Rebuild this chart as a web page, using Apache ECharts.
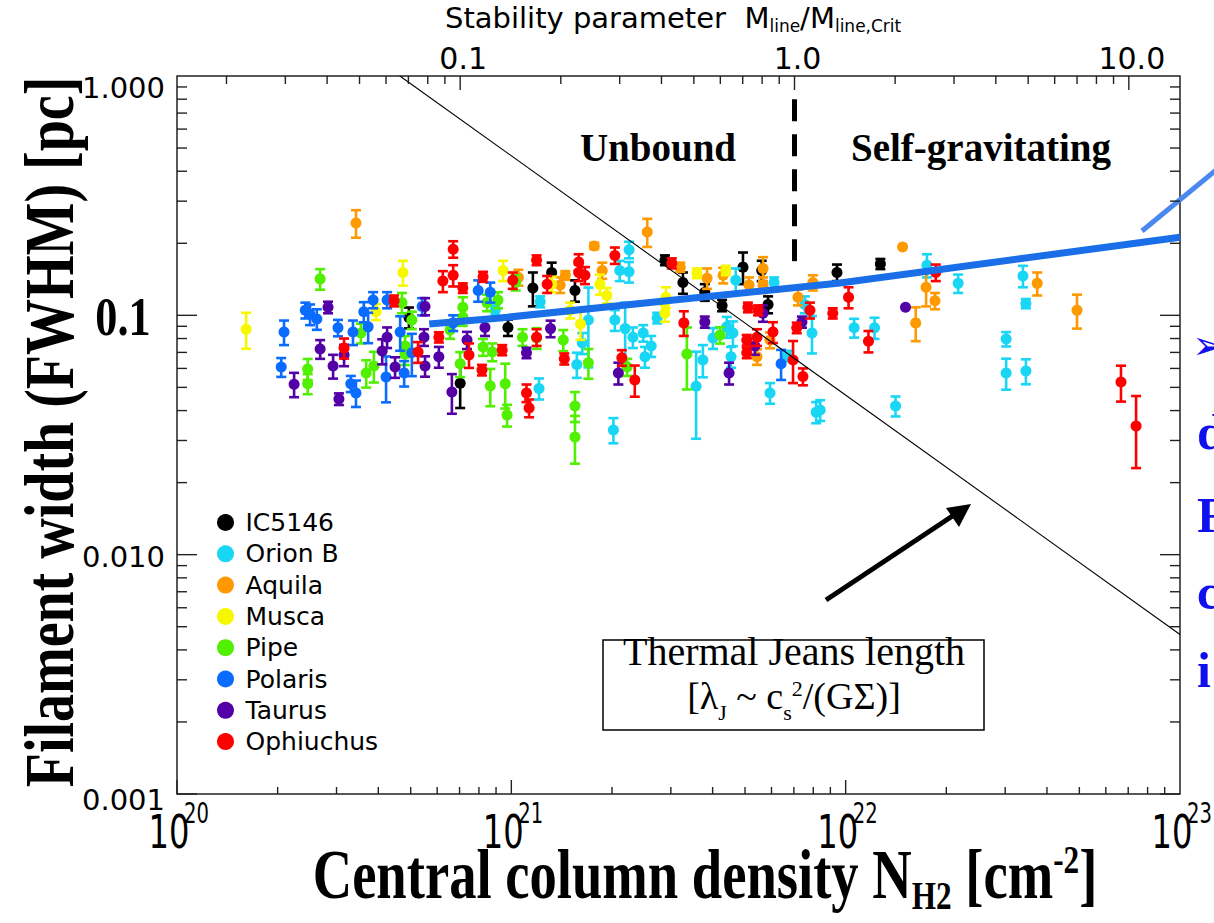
<!DOCTYPE html>
<html><head><meta charset="utf-8">
<script src="https://cdn.jsdelivr.net/npm/echarts@6/dist/echarts.min.js"></script>
<style>html,body{margin:0;padding:0;background:#fff}#c{width:1214px;height:923px}</style>
</head><body><div id="c"></div>
<script>
// ---------------- DATA ----------------
// each point: [central column density N_H2 (cm^-2), FWHM width (pc), error (pc)]
const seriesNames = ['IC5146','Orion B','Aquila','Musca','Pipe','Polaris','Taurus','Ophiuchus'];
const seriesColors = ['#000000','#1ad6f5','#ff9900','#f7f700','#50f000','#0a6cff','#5300a6','#ff0000'];

const ic5146 = [[4.94e20,0.098,0.0098],[7.03e20,0.052,0.011],[9.77e20,0.089,0.007],[1.16e21,0.130,0.021],
 [1.32e21,0.151,0.015],[1.55e21,0.127,0.013],[2.88e21,0.170,0.008],[3.26e21,0.137,0.014],[3.79e21,0.125,0.010],
 [4.27e21,0.110,0.006],[4.93e21,0.159,0.024],[5.61e21,0.154,0.015],[5.86e21,0.111,0.009],[9.42e21,0.151,0.012],
 [1.27e22,0.164,0.008]];
const orionB = [[8.95e20,0.105,0.005],[2.25e21,0.188,0.015],[2.25e21,0.152,0.015],[2.11e21,0.154,0.015],
 [1.22e21,0.114,0.006],[1.70e21,0.0956,0.035],[2.04e21,0.0956,0.0095],[2.19e21,0.088,0.025],[2.31e21,0.081,0.008],
 [1.63e21,0.0766,0.0077],[1.57e21,0.0623,0.0075],[1.21e21,0.0495,0.005],[2.02e21,0.0332,0.004],[2.48e21,0.0843,0.0067],
 [2.62e21,0.0745,0.0075],[2.51e21,0.0671,0.0067],[2.73e21,0.0975,0.005],[3.57e21,0.0505,0.02],[3.74e21,0.0651,0.01],
 [4.69e21,0.140,0.017],[6.11e21,0.137,0.007],[4.41e21,0.0895,0.009],[4.60e21,0.0843,0.01],[4.01e21,0.0804,0.008],
 [4.54e21,0.0671,0.0067],[5.94e21,0.0474,0.0047],[6.68e21,0.0677,0.0034],[8.16e21,0.0394,0.004],[7.55e21,0.111,0.009],
 [7.93e21,0.0843,0.015],[1.75e22,0.162,0.018],[2.17e22,0.136,0.012],[1.06e22,0.0887,0.008],[1.22e22,0.0887,0.009],
 [3.39e22,0.146,0.015],[3.46e22,0.112,0.005],[3.02e22,0.0796,0.0055],[3.02e22,0.0574,0.0085],[3.46e22,0.0585,0.007],
 [1.41e22,0.0418,0.004],[8.39e21,0.0402,0.004]];
const aquila = [[3.43e20,0.243,0.032],[2.55e21,0.223,0.03],[1.77e21,0.195,0.006],[1.05e21,0.144,0.011],
 [1.45e21,0.147,0.006],[1.40e21,0.134,0.01],[1.87e21,0.154,0.012],[3.20e21,0.159,0.007],[3.85e21,0.143,0.014],
 [4.30e21,0.147,0.011],[5.66e21,0.157,0.018],[5.66e21,0.134,0.01],[5.14e21,0.134,0.01],[5.94e21,0.0788,0.006],
 [5.43e21,0.0671,0.005],[7.98e21,0.137,0.01],[7.20e21,0.119,0.009],[1.48e22,0.193,0],[1.74e22,0.131,0.022],
 [1.85e22,0.115,0.009],[1.62e22,0.093,0.015],[3.74e22,0.136,0.015],[4.92e22,0.105,0.017]];
const musca = [[1.61e20,0.0875,0.015],[3.94e20,0.1035,0.008],[4.74e20,0.151,0.018],[9.45e20,0.154,0.015],
 [1.32e21,0.135,0.01],[1.50e21,0.105,0.008],[1.61e21,0.092,0.013],[1.84e21,0.135,0.013],[1.93e21,0.121,0.009],
 [2.88e21,0.102,0.008],[2.90e21,0.119,0.012],[3.59e21,0.150,0.007],[4.38e21,0.154,0.007]];
const pipe = [[2.46e20,0.0597,0.006],[2.46e20,0.0518,0.005],[2.68e20,0.142,0.014],[3.55e20,0.0843,0.008],
 [3.68e20,0.0574,0.0075],[3.88e20,0.0614,0.009],[4.71e20,0.113,0.011],[5.04e20,0.0956,0.008],[4.81e20,0.0744,0.0075],
 [4.81e20,0.069,0.007],[7.16e20,0.108,0.011],[7.16e20,0.0984,0.008],[7.03e20,0.0627,0.0075],[6.56e20,0.0868,0.007],
 [8.46e20,0.113,0.009],[9.12e20,0.116,0.009],[8.23e20,0.0737,0.006],[8.77e20,0.0703,0.006],[8.65e20,0.0507,0.009],
 [9.59e20,0.0518,0.011],[9.71e20,0.0383,0.004],[1.03e21,0.137,0.01],[1.19e21,0.0804,0.008],[1.08e21,0.081,0.0065],
 [1.43e21,0.0788,0.008],[1.70e21,0.0633,0.009],[1.55e21,0.0418,0.006],[1.55e21,0.031,0.007],[2.22e21,0.0608,0.005],
 [3.35e21,0.069,0.02],[4.21e21,0.0827,0.0065]];
const polaris = [[2.09e20,0.0851,0.01],[2.05e20,0.0608,0.0055],[2.42e20,0.105,0.008],[2.50e20,0.101,0.01],
 [2.62e20,0.0965,0.0095],[3.03e20,0.0887,0.007],[3.31e20,0.0518,0.004],[3.43e20,0.0474,0.006],[3.36e20,0.0851,0.01],
 [3.73e20,0.0895,0.013],[3.62e20,0.1035,0.01],[3.86e20,0.116,0.009],[4.25e20,0.116,0.009],[4.22e20,0.0553,0.012],
 [4.65e20,0.0851,0.014],[4.78e20,0.0574,0.007],[5.04e20,0.0697,0.014],[5.41e20,0.109,0.009],[7.96e20,0.127,0.013],
 [8.65e20,0.125,0.012],[6.70e20,0.093,0.007],[6.41e21,0.0627,0.009]];
const taurus = [[2.24e20,0.0515,0.006],[2.68e20,0.0723,0.0065],[2.93e20,0.0614,0.007],[3.05e20,0.0447,0.0025],
 [2.83e20,0.108,0.006],[3.16e20,0.0683,0.007],[4.11e20,0.0709,0.0085],[4.25e20,0.081,0.008],[4.49e20,0.0608,0.006],
 [5.52e20,0.0614,0.006],[5.48e20,0.081,0.0065],[5.52e20,0.109,0.009],[6.64e20,0.0478,0.009],[7.37e20,0.0788,0.0065],
 [6.07e20,0.0671,0.0067],[8.34e20,0.089,0.007],[1.11e21,0.0697,0.0035],[1.31e21,0.088,0.007],[2.09e21,0.0574,0.006],
 [3.79e21,0.0938,0.005],[4.48e21,0.0574,0.006],[5.35e21,0.0744,0.006],[5.66e21,0.102,0.008],[7.40e21,0.0938,0.005],
 [1.51e22,0.108,0]];
const ophiuchus = [[3.16e20,0.073,0.007],[4.46e20,0.115,0.006],[5.26e20,0.0703,0.007],[6.24e20,0.139,0.014],
 [6.70e20,0.189,0.015],[6.70e20,0.147,0.015],[7.16e20,0.130,0.006],[8.23e20,0.145,0.007],[6.07e20,0.081,0.004],
 [7.47e20,0.0683,0.008],[8.17e20,0.0591,0.003],[9.39e20,0.0716,0.0035],[1.19e21,0.170,0.008],[1.01e21,0.140,0.011],
 [1.28e21,0.135,0.011],[1.59e21,0.167,0.013],[1.59e21,0.151,0.012],[1.66e21,0.147,0.012],[2.04e21,0.178,0.014],
 [1.19e21,0.081,0.0065],[1.11e21,0.0474,0.004],[1.13e21,0.0410,0.0035],[1.44e21,0.0658,0.0035],[2.14e21,0.0665,0.005],
 [2.34e21,0.0537,0.008],[3.28e21,0.093,0.011],[3.02e21,0.165,0.008],[5.10e21,0.108,0.005],[5.47e21,0.105,0.005],
 [5.06e21,0.0788,0.004],[5.06e21,0.0697,0.0035],[5.43e21,0.081,0.0065],[6.06e21,0.0851,0.0085],[6.96e21,0.0651,0.013],
 [7.45e21,0.0555,0.0045],[7.82e21,0.105,0.008],[7.14e21,0.0887,0.0045],[9.15e21,0.102,0.005],[1.02e22,0.119,0.012],
 [1.86e22,0.151,0.012],[1.17e22,0.078,0.008],[6.66e22,0.0526,0.009],[7.39e22,0.0345,0.0115]];
const seriesData = [ic5146, orionB, aquila, musca, pipe, polaris, taurus, ophiuchus];

// lines
const fitN = [5.68e20, 9.25e20, 9.62e21, 1e23];
const fitW = [0.092, 0.0975, 0.1365, 0.212];
const jeansN = [4.64e20, 1e23];
const jeansW = [1.0, 0.00464];
const critN = [7.03e21, 7.03e21];
const critW = [0.80, 0.162];

// axes / ticks
const N_CRIT = 7.03e21;              // N_H2 where M_line / M_line,crit = 1
const xMajorExp = [20, 21, 22, 23];
const minorMult = [2, 3, 4, 5, 6, 7, 8, 9];
const yMajor = [1, 0.1, 0.01, 0.001];
const yMajorLabels = ['1.000', '0.1', '0.010', '0.001'];
const topMajor = [0.1, 1, 10];
const topMajorLabels = ['0.1', '1.0', '10.0'];

// ---------------- CHART ----------------
const chart = echarts.init(document.getElementById('c'), null, {renderer: 'svg'});
const SANS = 'DejaVu Sans';
const SERIF = 'Liberation Serif';

function renderAxes(params, api) {
  const ch = [];
  const X0 = api.coord([1e20, 1])[0], X1 = api.coord([1e23, 1])[0];
  const Yt = api.coord([1e21, 1])[1], Yb = api.coord([1e21, 0.001])[1];
  const tick = (x1, y1, x2, y2) => ch.push({type: 'line', shape: {x1, y1, x2, y2}, style: {stroke: '#222', lineWidth: 1.4}});
  for (let k = 20; k < 23; k++) {
    [1].concat(minorMult).forEach(m => {
      const x = api.coord([m * Math.pow(10, k), 1])[0];
      tick(x, Yb, x, Yb - (m === 1 ? 14 : 7));
    });
  }
  for (let k = -3; k < 0; k++) {
    [1].concat(minorMult).forEach(m => {
      const y = api.coord([1e21, m * Math.pow(10, k)])[1];
      const L = m === 1 ? 20 : 10;
      tick(X0, y, X0 + L, y); tick(X1, y, X1 - L, y);
    });
  }
  for (let k = -2; k < 2; k++) {
    [1].concat(minorMult).forEach(m => {
      const v = m * Math.pow(10, k) * N_CRIT;
      if (v <= 1e20 || v >= 1e23) return;
      const x = api.coord([v, 1])[0];
      tick(x, Yt, x, Yt + (m === 1 ? 14 : 8));
    });
  }
  // bottom labels
  xMajorExp.forEach(k => {
    const x = api.coord([Math.pow(10, k), 1])[0];
    ch.push({type: 'text', x: x - 8, y: Yb + 38, scaleX: 0.7,
      style: {text: '10', fontFamily: SANS, fontSize: 46, fill: '#000', align: 'center', verticalAlign: 'middle'}});
    ch.push({type: 'text', x: x + 7, y: Yb + 20, scaleX: 0.7,
      style: {text: String(k), fontFamily: SANS, fontSize: 28, fill: '#000', align: 'left', verticalAlign: 'middle'}});
  });
  // left labels
  yMajor.forEach((v, i) => {
    const y = api.coord([1e21, v])[1];
    if (yMajorLabels[i] === '0.1') {
      ch.push({type: 'text', x: 123, y: y + 2, scaleX: 0.82,
        style: {text: '0.1', fontFamily: SERIF, fontWeight: 'bold', fontSize: 54, fill: '#000', align: 'center', verticalAlign: 'middle'}});
    } else {
      const off = i === 0 ? 12 : (i === 3 ? 6 : 2);
      ch.push({type: 'text', x: X0 - 12, y: y + off,
        style: {text: yMajorLabels[i], fontFamily: SANS, fontSize: 29, fill: '#000', align: 'right', verticalAlign: 'middle'}});
    }
  });
  // top labels
  topMajor.forEach((s, i) => {
    const x = api.coord([s * N_CRIT, 1])[0];
    ch.push({type: 'text', x: x + 3, y: Yt - 18,
      style: {text: topMajorLabels[i], fontFamily: SANS, fontSize: 30, fill: '#000', align: 'center', verticalAlign: 'middle'}});
  });
  return {type: 'group', children: ch};
}

function renderErr(params, api) {
  const N = api.value(0), w = api.value(1), e = api.value(2);
  const p = api.coord([N, w]);
  const color = api.visual('color');
  const ch = [];
  if (e > 0) {
    const t = api.coord([N, w + e])[1];
    const b = api.coord([N, Math.max(w - e, 1e-5)])[1];
    const st = {stroke: color, lineWidth: 2.6};
    ch.push({type: 'line', shape: {x1: p[0], y1: t, x2: p[0], y2: b}, style: st});
    ch.push({type: 'line', shape: {x1: p[0] - 5, y1: t, x2: p[0] + 5, y2: t}, style: st});
    ch.push({type: 'line', shape: {x1: p[0] - 5, y1: b, x2: p[0] + 5, y2: b}, style: st});
  }
  ch.push({type: 'circle', shape: {cx: p[0], cy: p[1], r: 5.5}, style: {fill: color}});
  return {type: 'group', children: ch};
}

const zip = (a, b) => a.map((v, i) => [v, b[i]]);

const series = seriesNames.map((name, i) => ({
  name, type: 'custom', renderItem: renderErr, data: seriesData[i],
  itemStyle: {color: seriesColors[i]}, encode: {x: 0, y: 1}, z: 3, silent: true
}));
series.push({type: 'custom', name: 'axes', renderItem: renderAxes, data: [[1e21, 0.1]], encode: {x: 0, y: 1}, z: 10, silent: true});
series.push({type: 'line', name: 'jeans', data: zip(jeansN, jeansW), symbol: 'none', silent: true, z: 5,
  lineStyle: {color: '#000', width: 1.1}});
series.push({type: 'line', name: 'fit', data: zip(fitN, fitW), symbol: 'none', silent: true, z: 6,
  lineStyle: {color: '#1a6fe8', width: 7, cap: 'butt'}});
series.push({type: 'line', name: 'crit', data: zip(critN, critW), symbol: 'none', silent: true, z: 6,
  lineStyle: {color: '#000', width: 5, type: [22, 13], cap: 'butt'}});

const option = {
  animation: false,
  backgroundColor: '#fff',
  grid: {left: 177, top: 76, width: 1003, height: 718, show: true, borderColor: '#222', borderWidth: 1.5, backgroundColor: 'transparent'},
  xAxis: {type: 'log', logBase: 10, min: 1e20, max: 1e23, axisLine: {show: false}, axisTick: {show: false},
    axisLabel: {show: false}, splitLine: {show: false}, minorTick: {show: false}},
  yAxis: {type: 'log', logBase: 10, min: 0.001, max: 1, axisLine: {show: false}, axisTick: {show: false},
    axisLabel: {show: false}, splitLine: {show: false}},
  legend: {
    data: seriesNames, orient: 'vertical', left: 212, top: 505, icon: 'circle',
    itemWidth: 30, itemHeight: 17, itemGap: 6.3, selectedMode: false,
    textStyle: {fontFamily: SANS, fontSize: 25, color: '#000', lineHeight: 24}
  },
  graphic: [
    {type: 'text', x: 445, y: 3, style: {
      text: '{a|Stability parameter  M}{s|line}{a|/M}{s|line,Crit}',
      rich: {a: {fontFamily: SANS, fontSize: 29, lineHeight: 32, verticalAlign: 'top', fill: '#000'},
             s: {fontFamily: SANS, fontSize: 17, lineHeight: 18, padding: [14, 0, 0, 0], verticalAlign: 'top', fill: '#000'}}}},
    {type: 'text', x: 658, y: 147, style: {text: 'Unbound', fontFamily: SERIF, fontWeight: 'bold', fontSize: 39, fill: '#000', align: 'center', verticalAlign: 'middle'}},
    {type: 'text', x: 981, y: 147, style: {text: 'Self-gravitating', fontFamily: SERIF, fontWeight: 'bold', fontSize: 39, fill: '#000', align: 'center', verticalAlign: 'middle'}},
    {type: 'text', x: 50, y: 432, rotation: Math.PI / 2, scaleX: 0.8, style: {
      text: 'Filament width (FWHM) [pc]', fontFamily: SERIF, fontWeight: 'bold', fontSize: 70, fill: '#000',
      align: 'center', verticalAlign: 'middle'}},
    {type: 'text', x: 705, y: 876, scaleX: 0.78, style: {
      text: '{a|Central column density N}{s|H2}{a| [cm}{p|-2}{a|]}',
      align: 'center', verticalAlign: 'middle',
      rich: {a: {fontFamily: SERIF, fontWeight: 'bold', fontSize: 70, lineHeight: 72, verticalAlign: 'top', fill: '#000'},
             s: {fontFamily: SERIF, fontWeight: 'bold', fontSize: 40, lineHeight: 40, padding: [36, 0, 0, 0], verticalAlign: 'top', fill: '#000'},
             p: {fontFamily: SERIF, fontWeight: 'bold', fontSize: 40, lineHeight: 40, padding: [0, 0, 0, 0], verticalAlign: 'top', fill: '#000'}}}},
    // annotation box
    {type: 'rect', shape: {x: 603, y: 640, width: 381, height: 90}, style: {fill: '#fff', stroke: '#000', lineWidth: 1.5}},
    {type: 'text', x: 794, y: 651, style: {text: 'Thermal Jeans length', fontFamily: SERIF, fontSize: 40, fill: '#000', align: 'center', verticalAlign: 'middle'}},
    {type: 'text', x: 794, y: 697, style: {
      text: '{a|[λ}{s|J}{a| ~ c}{s|s}{p|2}{a|/(GΣ)]}', align: 'center', verticalAlign: 'middle',
      rich: {a: {fontFamily: SERIF, fontSize: 38, lineHeight: 40, verticalAlign: 'top', fill: '#000'},
             s: {fontFamily: SERIF, fontSize: 22, lineHeight: 22, padding: [24, 0, 0, 0], verticalAlign: 'top', fill: '#000'},
             p: {fontFamily: SERIF, fontSize: 22, lineHeight: 22, padding: [0, 0, 0, 0], verticalAlign: 'top', fill: '#000'}}}},
    // arrow
    {type: 'line', shape: {x1: 826, y1: 600, x2: 960, y2: 511}, style: {stroke: '#000', lineWidth: 5}},
    {type: 'polygon', shape: {points: [[971, 504], [946, 508], [959, 527]]}, style: {fill: '#000'}},
    // slide decorations on the right edge (cut off by the picture edge in the reference)
    {type: 'line', shape: {x1: 1142, y1: 231, x2: 1216, y2: 170}, style: {stroke: '#4a88f0', lineWidth: 5}},
    {type: 'text', x: 1192, y: 345, style: {text: '➢', fontFamily: 'DejaVu Sans', fontSize: 40, fill: '#1010ee', verticalAlign: 'middle'}},
    {type: 'text', x: 1197, y: 432, style: {text: 'd', fontFamily: SERIF, fontWeight: 'bold', fontSize: 50, fill: '#1010ee', verticalAlign: 'middle'}},
    {type: 'text', x: 1197, y: 515, style: {text: 'F', fontFamily: SERIF, fontWeight: 'bold', fontSize: 50, fill: '#1010ee', verticalAlign: 'middle'}},
    {type: 'text', x: 1197, y: 592, style: {text: 'c', fontFamily: SERIF, fontWeight: 'bold', fontSize: 50, fill: '#1010ee', verticalAlign: 'middle'}},
    {type: 'text', x: 1197, y: 670, style: {text: 'i', fontFamily: SERIF, fontWeight: 'bold', fontSize: 50, fill: '#1010ee', verticalAlign: 'middle'}}
  ],
  series
};
chart.setOption(option);
</script></body></html>
